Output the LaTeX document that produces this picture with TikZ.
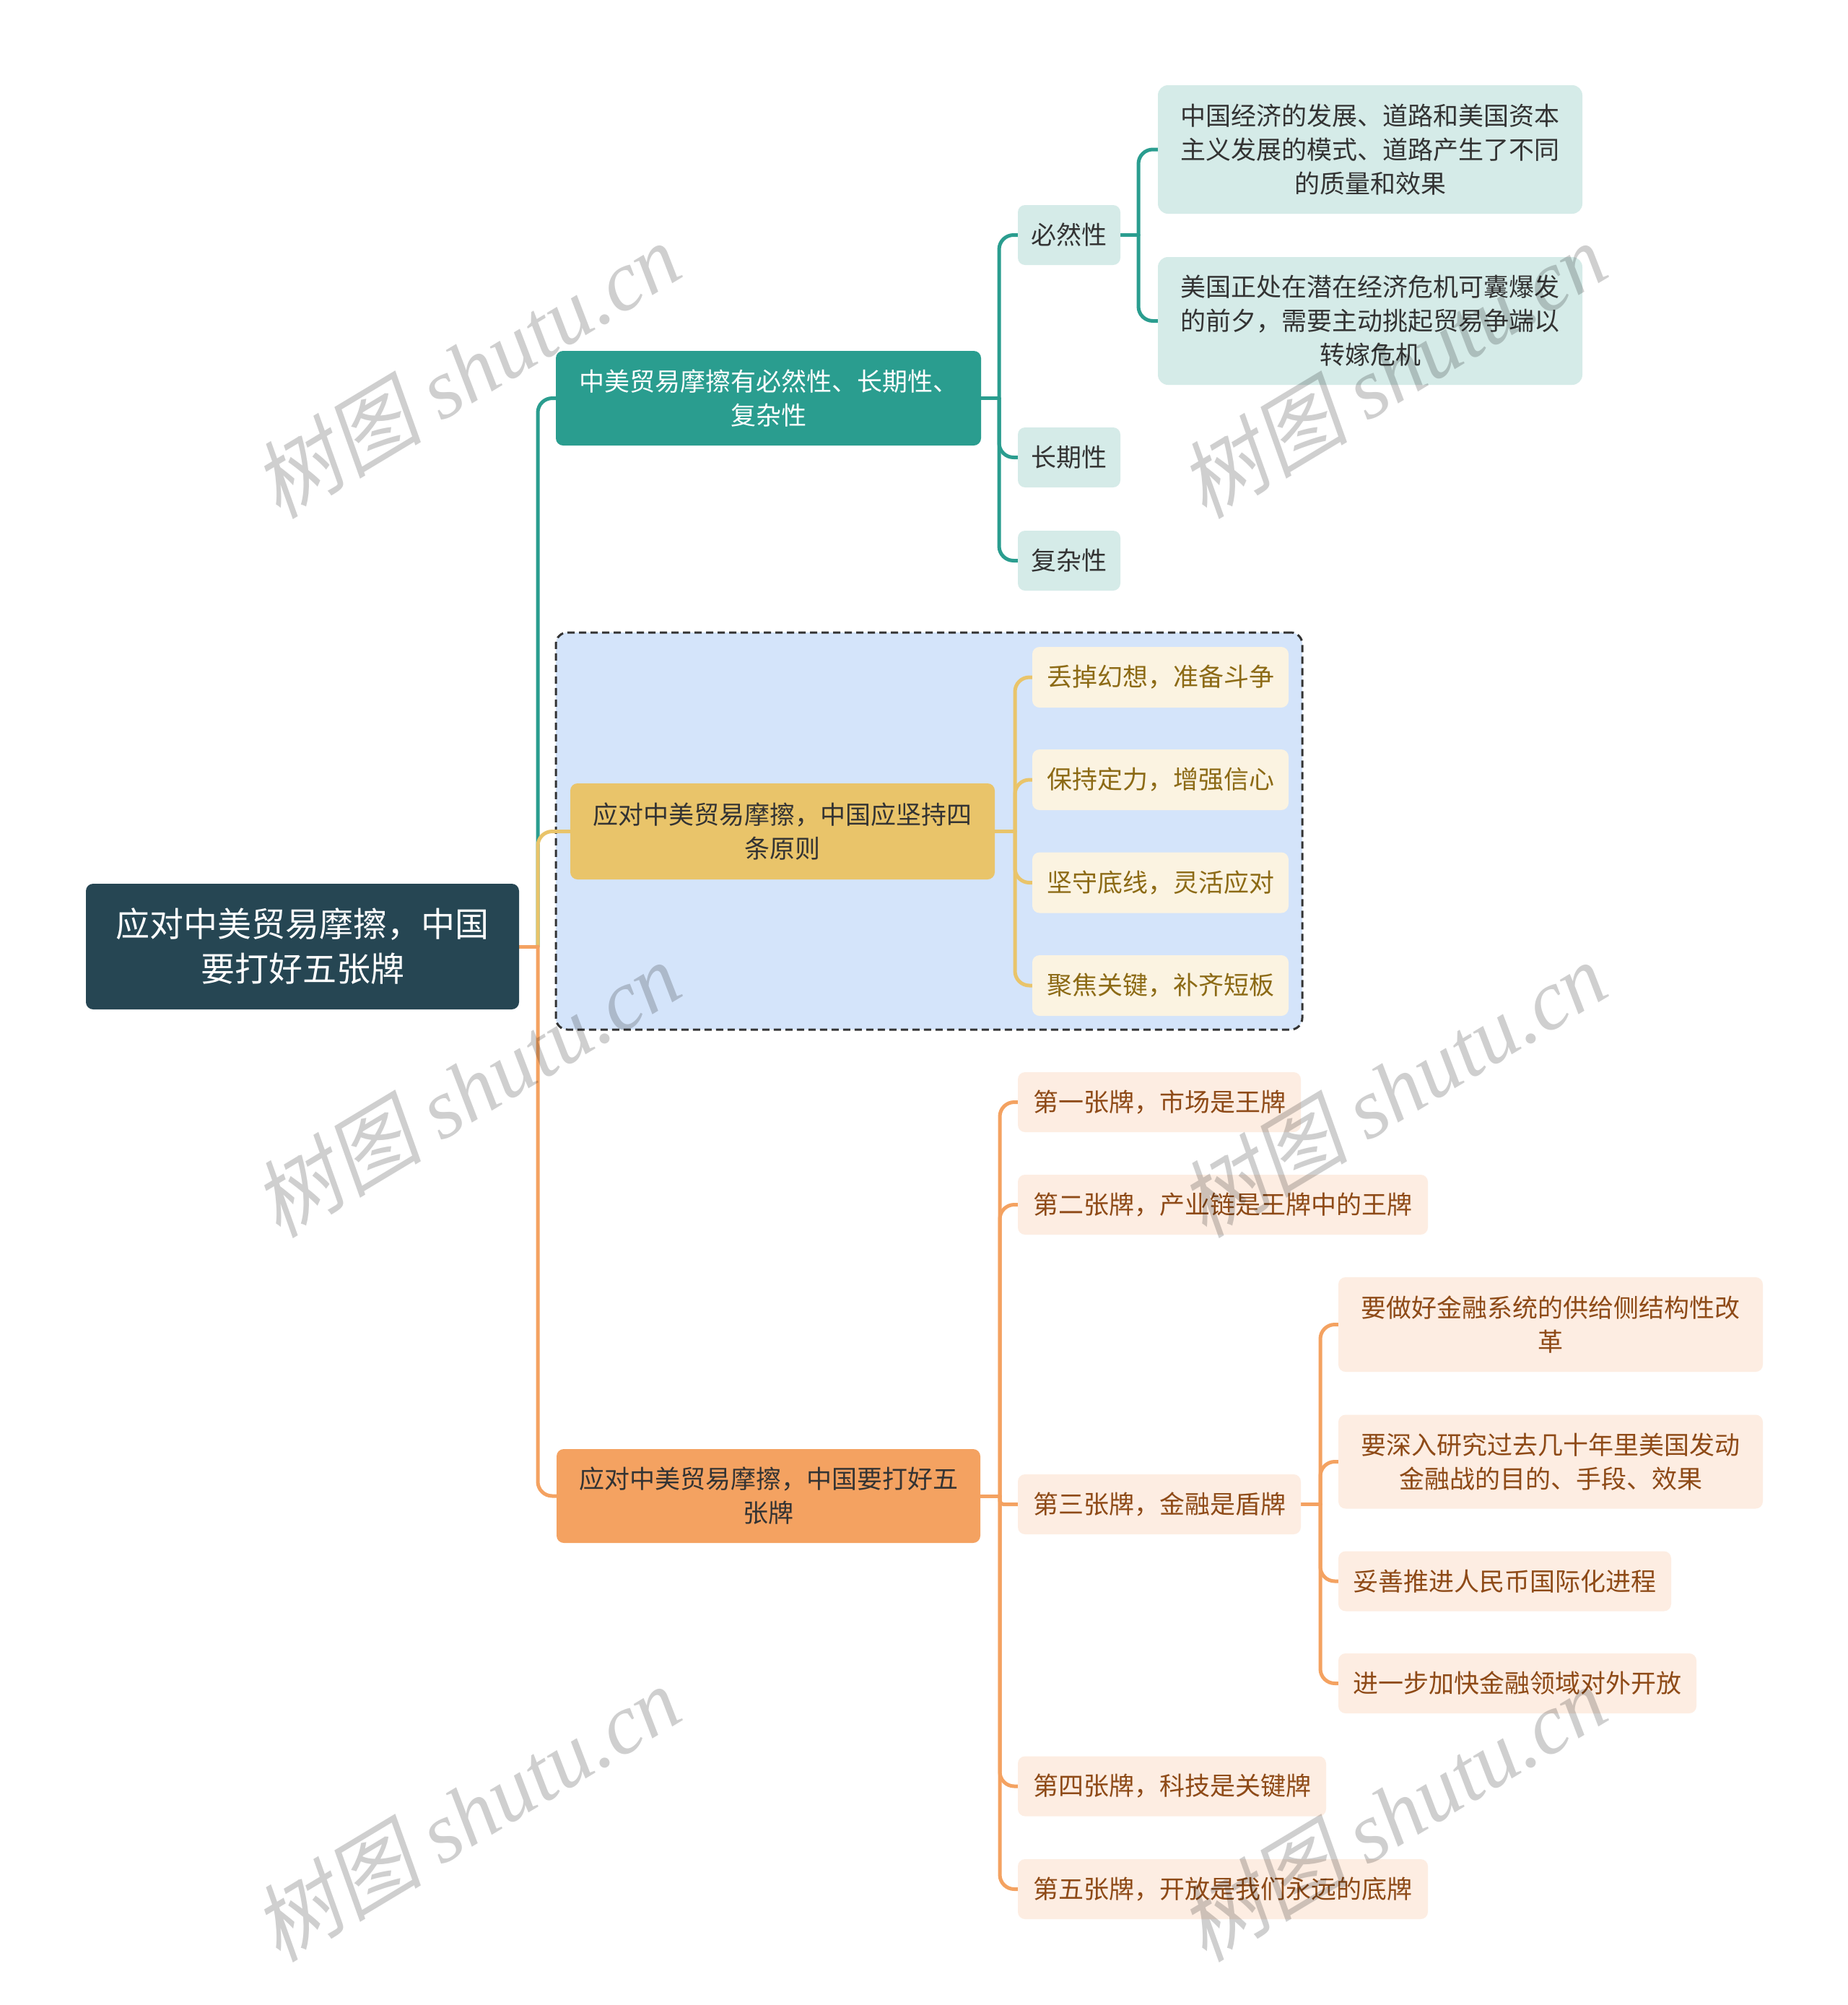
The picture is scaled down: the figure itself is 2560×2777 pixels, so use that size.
\documentclass[tikz,border=0pt]{standalone}
\usepackage{fontspec}
\setmainfont{Noto Sans CJK SC}
\newfontfamily\wmcjk[FakeSlant=0.2]{Noto Sans CJK SC}
\newfontfamily\wmlat{Liberation Serif}
\definecolor{rootc}{HTML}{264653}
\definecolor{tealc}{HTML}{2A9D8F}
\definecolor{teallt}{HTML}{D5EBE8}
\definecolor{yelc}{HTML}{E9C46A}
\definecolor{yellt}{HTML}{FBF3E1}
\definecolor{yeltxt}{HTML}{8C6A15}
\definecolor{orc}{HTML}{F4A261}
\definecolor{orlt}{HTML}{FDEDE2}
\definecolor{ortxt}{HTML}{8E4A17}
\definecolor{txtc}{HTML}{333333}
\definecolor{grpfill}{HTML}{D4E4FA}
\pgfdeclarelayer{bgzero}
\pgfdeclarelayer{bgone}
\pgfdeclarelayer{fg}
\pgfsetlayers{bgzero,bgone,main,fg}
\begin{document}
\begin{tikzpicture}[x=1pt,y=-1pt,
  nd/.style={rounded corners=10pt, inner sep=0pt, align=center, font=\fontsize{35}{47}\selectfont},
  wh/.style 2 args={minimum width=#1pt, minimum height=#2pt},
  rootnd/.style={nd, fill=rootc, text=white, font=\fontsize{47}{62}\selectfont},
  tealone/.style={nd, fill=tealc, text=white},
  tealtwo/.style={nd, fill=teallt, text=txtc},
  yelone/.style={nd, fill=yelc, text=txtc},
  yeltwo/.style={nd, fill=yellt, text=yeltxt},
  orone/.style={nd, fill=orc, text=txtc},
  ortwo/.style={nd, fill=orlt, text=ortxt},
  conn/.style={line width=5pt, rounded corners=20pt, line cap=round},
  grpbox/.style={draw=txtc, fill=grpfill, line width=3pt, dash pattern=on 10pt off 6pt, rounded corners=16pt, inner sep=0pt},
  wm/.style={rotate=31, text=black, text opacity=0.19, inner sep=0pt, font=\fontsize{118}{118}\selectfont}
]
\useasboundingbox (0,0) rectangle (2560,2777);

% background and group frame
\begin{pgfonlayer}{bgzero}
\fill[white] (0,0) rectangle (2560,2777);
\node[grpbox, wh={1034}{550}] (grp) at (1287,1151) {};
\end{pgfonlayer}

% root
\node[rootnd, wh={600}{174}] (root) at (419,1311) {应对中美贸易摩擦，中国\\要打好五张牌};

% teal branch
\node[tealone, wh={589}{131}] (t1) at (1064.5,551.5) {中美贸易摩擦有必然性、长期性、\\复杂性};
\node[tealtwo, wh={142}{83}] (t2a) at (1481,325.5) {必然性};
\node[tealtwo, wh={142}{83}] (t2b) at (1481,633.5) {长期性};
\node[tealtwo, wh={142}{83}] (t2c) at (1481,776.5) {复杂性};
\node[tealtwo, rounded corners=14pt, wh={588}{178}] (t3a) at (1898,207) {中国经济的发展、道路和美国资本\\主义发展的模式、道路产生了不同\\的质量和效果};
\node[tealtwo, rounded corners=14pt, wh={588}{177}] (t3b) at (1898,444.5) {美国正处在潜在经济危机可囊爆发\\的前夕，需要主动挑起贸易争端以\\转嫁危机};

% yellow branch
\node[yelone, wh={588}{133}] (y1) at (1084,1151.5) {应对中美贸易摩擦，中国应坚持四\\条原则};
\node[yeltwo, wh={355}{84}] (y2a) at (1607.5,938) {丢掉幻想，准备斗争};
\node[yeltwo, wh={355}{84}] (y2b) at (1607.5,1080) {保持定力，增强信心};
\node[yeltwo, wh={355}{84}] (y2c) at (1607.5,1222.5) {坚守底线，灵活应对};
\node[yeltwo, wh={355}{84}] (y2d) at (1607.5,1365) {聚焦关键，补齐短板};

% orange branch
\node[orone, wh={587}{130}] (o1) at (1064.5,2072) {应对中美贸易摩擦，中国要打好五\\张牌};
\node[ortwo, wh={392}{83}] (o2a) at (1606,1526.5) {第一张牌，市场是王牌};
\node[ortwo, wh={568}{83}] (o2b) at (1694,1668.5) {第二张牌，产业链是王牌中的王牌};
\node[ortwo, wh={392}{83}] (o2c) at (1606,2083.5) {第三张牌，金融是盾牌};
\node[ortwo, wh={427}{83}] (o2d) at (1623.5,2474) {第四张牌，科技是关键牌};
\node[ortwo, wh={568}{83}] (o2e) at (1694,2616.5) {第五张牌，开放是我们永远的底牌};
\node[ortwo, wh={588}{131}] (o3a) at (2148,1834.5) {要做好金融系统的供给侧结构性改\\革};
\node[ortwo, wh={588}{130}] (o3b) at (2148,2024.5) {要深入研究过去几十年里美国发动\\金融战的目的、手段、效果};
\node[ortwo, wh={461}{83}] (o3c) at (2084.5,2190) {妥善推进人民币国际化进程};
\node[ortwo, wh={496}{83}] (o3d) at (2102,2331.5) {进一步加快金融领域对外开放};

% connectors
\begin{pgfonlayer}{bgone}
\coordinate (rj) at (745,1311);
\draw[conn, tealc] (rj) |- (t1.west);
\draw[conn, yelc] (rj) |- (y1.west);
\draw[conn, orc] (rj) |- (o1.west);
\draw[conn, orc] (root.east) -- (rj);

\coordinate (tj) at (1384,551.5);
\draw[conn, tealc] (t1.east) -- (tj);
\draw[conn, tealc] (tj) |- (t2a.west);
\draw[conn, tealc] (tj) |- (t2b.west);
\draw[conn, tealc] (tj) |- (t2c.west);
\coordinate (tk) at (1577,325.5);
\draw[conn, tealc] (t2a.east) -- (tk);
\draw[conn, tealc] (tk) |- (t3a.west);
\draw[conn, tealc] (tk) |- (t3b.west);

\coordinate (yj) at (1406,1151.5);
\draw[conn, yelc] (y1.east) -- (yj);
\draw[conn, yelc] (yj) |- (y2a.west);
\draw[conn, yelc] (yj) |- (y2b.west);
\draw[conn, yelc] (yj) |- (y2c.west);
\draw[conn, yelc] (yj) |- (y2d.west);

\coordinate (oj) at (1385,2072);
\draw[conn, orc] (o1.east) -- (oj);
\draw[conn, orc] (oj) |- (o2a.west);
\draw[conn, orc] (oj) |- (o2b.west);
\draw[conn, orc, rounded corners=5pt] (oj) |- (o2c.west);
\draw[conn, orc] (oj) |- (o2d.west);
\draw[conn, orc] (oj) |- (o2e.west);
\coordinate (ok) at (1829,2083.5);
\draw[conn, orc] (o2c.east) -- (ok);
\draw[conn, orc] (ok) |- (o3a.west);
\draw[conn, orc] (ok) |- (o3b.west);
\draw[conn, orc] (ok) |- (o3c.west);
\draw[conn, orc] (ok) |- (o3d.west);
\end{pgfonlayer}

% watermarks
\begin{pgfonlayer}{fg}
\node[wm] (wm1) at (646,512) {{\wmcjk 树图} {\wmlat\itshape shutu.cn}};
\node[wm] (wm2) at (1929,512) {{\wmcjk 树图} {\wmlat\itshape shutu.cn}};
\node[wm] (wm3) at (646,1508) {{\wmcjk 树图} {\wmlat\itshape shutu.cn}};
\node[wm] (wm4) at (1929,1508) {{\wmcjk 树图} {\wmlat\itshape shutu.cn}};
\node[wm] (wm5) at (646,2511) {{\wmcjk 树图} {\wmlat\itshape shutu.cn}};
\node[wm] (wm6) at (1929,2511) {{\wmcjk 树图} {\wmlat\itshape shutu.cn}};
\end{pgfonlayer}
\end{tikzpicture}
\end{document}
